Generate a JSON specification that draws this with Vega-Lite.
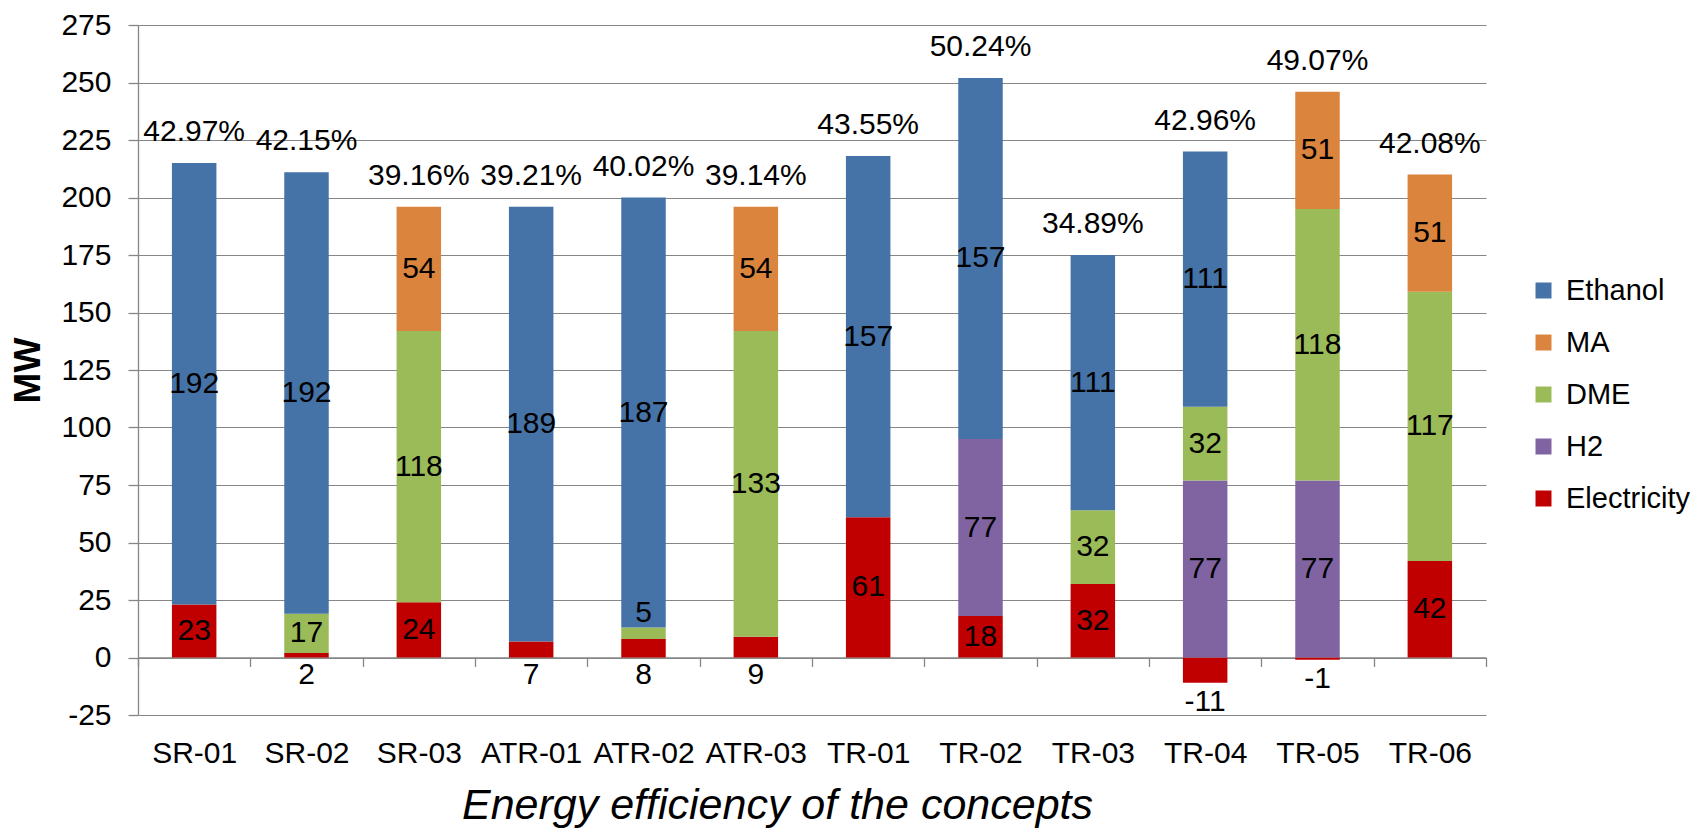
{
  "$schema": "https://vega.github.io/schema/vega-lite/v6.json",
  "width": 1348,
  "height": 690,
  "autosize": {"type": "none"},
  "padding": {"left": 138, "top": 25, "right": 206, "bottom": 114},
  "background": "white",
  "config": {
    "font": "Liberation Sans",
    "locale": {"number": {"decimal": ".", "thousands": ",", "grouping": [3], "currency": ["$", ""], "minus": "-"}},
    "view": {"stroke": null},
    "axis": {
      "labelFont": "Liberation Sans",
      "titleFont": "Liberation Sans",
      "labelColor": "black",
      "titleColor": "black",
      "labelFontSize": 30,
      "tickColor": "#868686",
      "domainColor": "#868686",
      "gridColor": "#868686",
      "gridWidth": 1,
      "domainWidth": 1.3,
      "tickWidth": 1.3
    }
  },
  "datasets": {
    "segments": [
      {"concept": "SR-01", "source": "Electricity", "value": 23},
      {"concept": "SR-01", "source": "Ethanol", "value": 192},
      {"concept": "SR-02", "source": "Electricity", "value": 2},
      {"concept": "SR-02", "source": "DME", "value": 17},
      {"concept": "SR-02", "source": "Ethanol", "value": 192},
      {"concept": "SR-03", "source": "Electricity", "value": 24},
      {"concept": "SR-03", "source": "DME", "value": 118},
      {"concept": "SR-03", "source": "MA", "value": 54},
      {"concept": "ATR-01", "source": "Electricity", "value": 7},
      {"concept": "ATR-01", "source": "Ethanol", "value": 189},
      {"concept": "ATR-02", "source": "Electricity", "value": 8},
      {"concept": "ATR-02", "source": "DME", "value": 5},
      {"concept": "ATR-02", "source": "Ethanol", "value": 187},
      {"concept": "ATR-03", "source": "Electricity", "value": 9},
      {"concept": "ATR-03", "source": "DME", "value": 133},
      {"concept": "ATR-03", "source": "MA", "value": 54},
      {"concept": "TR-01", "source": "Electricity", "value": 61},
      {"concept": "TR-01", "source": "Ethanol", "value": 157},
      {"concept": "TR-02", "source": "Electricity", "value": 18},
      {"concept": "TR-02", "source": "H2", "value": 77},
      {"concept": "TR-02", "source": "Ethanol", "value": 157},
      {"concept": "TR-03", "source": "Electricity", "value": 32},
      {"concept": "TR-03", "source": "DME", "value": 32},
      {"concept": "TR-03", "source": "Ethanol", "value": 111},
      {"concept": "TR-04", "source": "Electricity", "value": -11},
      {"concept": "TR-04", "source": "H2", "value": 77},
      {"concept": "TR-04", "source": "DME", "value": 32},
      {"concept": "TR-04", "source": "Ethanol", "value": 111},
      {"concept": "TR-05", "source": "Electricity", "value": -1},
      {"concept": "TR-05", "source": "H2", "value": 77},
      {"concept": "TR-05", "source": "DME", "value": 118},
      {"concept": "TR-05", "source": "MA", "value": 51},
      {"concept": "TR-06", "source": "Electricity", "value": 42},
      {"concept": "TR-06", "source": "DME", "value": 117},
      {"concept": "TR-06", "source": "MA", "value": 51}
    ],
    "efficiency": [
      {"concept": "SR-01", "eff": 0.4297},
      {"concept": "SR-02", "eff": 0.4215},
      {"concept": "SR-03", "eff": 0.3916},
      {"concept": "ATR-01", "eff": 0.3921},
      {"concept": "ATR-02", "eff": 0.4002},
      {"concept": "ATR-03", "eff": 0.3914},
      {"concept": "TR-01", "eff": 0.4355},
      {"concept": "TR-02", "eff": 0.5024},
      {"concept": "TR-03", "eff": 0.3489},
      {"concept": "TR-04", "eff": 0.4296},
      {"concept": "TR-05", "eff": 0.4907},
      {"concept": "TR-06", "eff": 0.4208}
    ]
  },
  "encoding": {
    "x": {
      "field": "concept",
      "type": "nominal",
      "title": "Energy efficiency of the concepts",
      "sort": ["SR-01", "SR-02", "SR-03", "ATR-01", "ATR-02", "ATR-03", "TR-01", "TR-02", "TR-03", "TR-04", "TR-05", "TR-06"],
      "scale": {"paddingInner": 0, "paddingOuter": 0},
      "axis": {
        "labelAngle": 0,
        "offset": -57.5,
        "tickBand": "extent",
        "tickSize": 9,
        "labelPadding": 72,
        "labelBaseline": "top",
        "grid": false,
        "titleFontSize": 43,
        "titleFontStyle": "italic",
        "titleFontWeight": "normal",
        "titlePadding": 16,
        "titleX": 639
      }
    }
  },
  "layer": [
    {
      "data": {"name": "segments"},
      "transform": [
        {"calculate": "indexof(['Electricity','H2','DME','MA','Ethanol'], datum.source)", "as": "ord"},
        {"stack": "value", "groupby": ["concept"], "sort": [{"field": "ord", "order": "ascending"}], "as": ["y0", "y1"]}
      ],
      "mark": {"type": "bar", "width": {"band": 0.396}},
      "encoding": {
        "y": {
          "field": "y0",
          "type": "quantitative",
          "title": "MW",
          "scale": {"domain": [-25, 275], "nice": false, "zero": false},
          "axis": {
            "values": [-25, 0, 25, 50, 75, 100, 125, 150, 175, 200, 225, 250, 275],
            "tickSize": 10,
            "labelPadding": 17,
            "titleFontSize": 37,
            "titleFontWeight": "bold",
            "titlePadding": 13,
            "grid": true
          }
        },
        "y2": {"field": "y1"},
        "color": {
          "field": "source",
          "type": "nominal",
          "scale": {
            "domain": ["Ethanol", "MA", "DME", "H2", "Electricity"],
            "range": ["#4572A7", "#DB843D", "#9BBB59", "#8064A2", "#C00000"]
          },
          "legend": {
            "orient": "none",
            "legendX": 1391,
            "legendY": 251,
            "title": null,
            "symbolType": "square",
            "symbolSize": 256,
            "symbolStrokeWidth": 0,
            "symbolOpacity": 1,
            "labelFontSize": 29,
            "labelColor": "black",
            "labelFont": "Liberation Sans",
            "labelOffset": 8,
            "rowPadding": 22,
            "padding": 0
          }
        }
      }
    },
    {
      "data": {"name": "segments"},
      "transform": [
        {"calculate": "indexof(['Electricity','H2','DME','MA','Ethanol'], datum.source)", "as": "ord"},
        {"stack": "value", "groupby": ["concept"], "sort": [{"field": "ord", "order": "ascending"}], "as": ["y0", "y1"]},
        {"calculate": "datum.value < 0 ? min(datum.y0, datum.y1) - 8.5 : (datum.value < 10 ? (datum.source == 'Electricity' ? -7.5 : datum.y1 + 6.5) : (datum.y0 + datum.y1) / 2)", "as": "labelY"}
      ],
      "mark": {"type": "text", "fontSize": 30, "color": "black", "baseline": "middle", "align": "center", "font": "Liberation Sans"},
      "encoding": {
        "y": {"field": "labelY", "type": "quantitative", "title": "MW"},
        "text": {"field": "value", "type": "quantitative", "format": "d"}
      }
    },
    {
      "data": {"name": "segments"},
      "transform": [
        {"filter": "datum.value > 0"},
        {"aggregate": [{"op": "sum", "field": "value", "as": "total"}], "groupby": ["concept"]},
        {"lookup": "concept", "from": {"data": {"name": "efficiency"}, "key": "concept", "fields": ["eff"]}}
      ],
      "mark": {"type": "text", "fontSize": 30, "color": "black", "baseline": "middle", "align": "center", "dy": -31, "font": "Liberation Sans"},
      "encoding": {
        "y": {"field": "total", "type": "quantitative", "title": "MW"},
        "text": {"field": "eff", "type": "quantitative", "format": ".2%"}
      }
    }
  ]
}
